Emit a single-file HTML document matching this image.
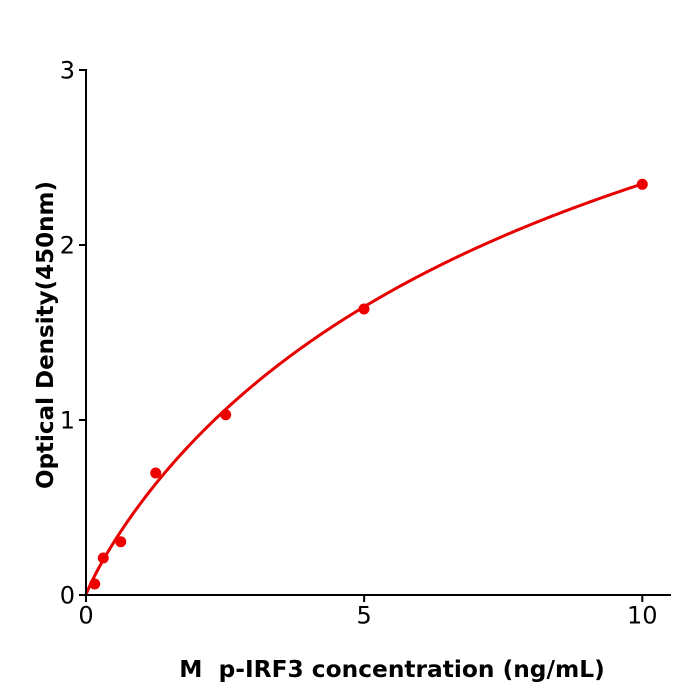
<!DOCTYPE html>
<html>
<head>
<meta charset="utf-8">
<style>
  html, body { margin: 0; padding: 0; background: #ffffff; }
  svg { display: block; }
  text { font-family: "DejaVu Sans", "Liberation Sans", sans-serif; fill: #000; }
</style>
</head>
<body>
<svg width="700" height="700" viewBox="0 0 700 700" xmlns="http://www.w3.org/2000/svg">
  <rect x="0" y="0" width="700" height="700" fill="#ffffff"/>

  <!-- fitted curve -->
  <path id="curve" d="M86,595 L88.78,587.97 L91.56,581.96 L97.13,571.03 L105.47,556.08 L113.82,542.29 L127.72,521.2 L141.63,501.9 L169.45,467.4 L197.26,437.0 L225.08,409.9 L252.89,385.5 L308.52,342.8 L364.15,306.7 L419.78,275.6 L475.41,248.4 L531.04,224.5 L586.67,203.1 L642.3,184.0"
        fill="none" stroke="#e60000" stroke-width="3" stroke-linejoin="round" stroke-linecap="round"/>

  <!-- data points -->
  <g fill="#ee0000">
    <circle cx="94.7" cy="584" r="5.5"/>
    <circle cx="103.3" cy="558" r="5.5"/>
    <circle cx="120.7" cy="541.7" r="5.5"/>
    <circle cx="155.7" cy="473" r="5.5"/>
    <circle cx="225.7" cy="414.7" r="5.5"/>
    <circle cx="364" cy="309" r="5.5"/>
    <circle cx="642.3" cy="184.3" r="5.5"/>
  </g>

  <!-- axes -->
  <g stroke="#000" stroke-width="2" fill="none">
    <line x1="86" y1="69" x2="86" y2="596"/>
    <line x1="85" y1="595" x2="671" y2="595"/>
    <line x1="79" y1="595" x2="86" y2="595"/>
    <line x1="79" y1="420" x2="86" y2="420"/>
    <line x1="79" y1="245" x2="86" y2="245"/>
    <line x1="79" y1="70" x2="86" y2="70"/>
    <line x1="86" y1="595" x2="86" y2="602"/>
    <line x1="364.15" y1="595" x2="364.15" y2="602"/>
    <line x1="642.3" y1="595" x2="642.3" y2="602"/>
  </g>

  <!-- y tick labels -->
  <g font-size="24" text-anchor="end">
    <text x="75" y="603.5">0</text>
    <text x="75" y="428.5">1</text>
    <text x="75" y="253.5">2</text>
    <text x="75" y="78.5">3</text>
  </g>

  <!-- x tick labels -->
  <g font-size="24" text-anchor="middle">
    <text x="86" y="623.5">0</text>
    <text x="364.15" y="623.5">5</text>
    <text x="642.3" y="623.5">10</text>
  </g>

  <!-- axis titles -->
  <text x="392" y="677" font-size="23.3" font-weight="bold" text-anchor="middle" xml:space="preserve" style="white-space:pre">M  p-IRF3 concentration (ng/mL)</text>
  <text transform="translate(53,335) rotate(-90)" font-size="23" font-weight="bold" text-anchor="middle">Optical Density(450nm)</text>
</svg>
<script>
  (function () {
    var d = "";
    for (var i = 0; i <= 400; i++) {
      var x = 10 * Math.pow(i / 400, 1.6);
      var u = Math.pow(x, 0.9);
      var y = 4.623 * u / (7.69 + u);
      var px = 86 + 55.63 * x, py = 595 - 175 * y;
      d += (i === 0 ? "M" : "L") + px.toFixed(2) + "," + py.toFixed(2);
    }
    document.getElementById("curve").setAttribute("d", d);
  })();
</script>
</body>
</html>
